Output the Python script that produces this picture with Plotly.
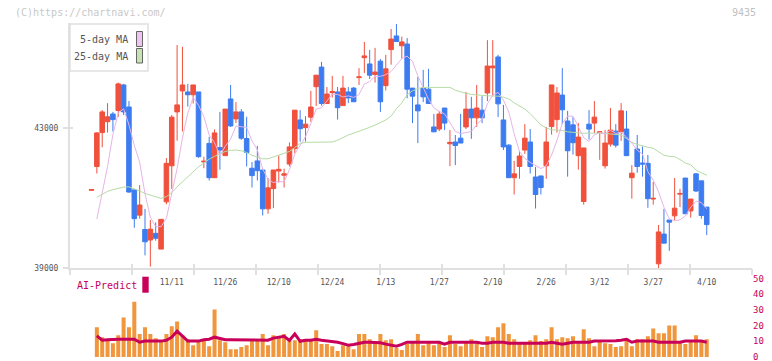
import plotly.graph_objects as go

W, H = 772, 361
FONT = "DejaVu Sans Mono"

# ---------------- data ----------------
opens = [41220, 41900, 42870, 43180, 43400, 43500, 44230, 43600, 41230, 40510,
         40100, 39800, 39990, 39540, 40890, 41920, 43460, 44060, 44030, 43950,
         44030, 42030, 42560, 41580, 42440, 42210, 43830, 43260, 43460, 42700,
         41850, 42060, 41800, 40690, 41270, 41770, 41650, 41970, 42410, 43230,
         43010, 43310, 44180, 44740, 43700, 44010, 44030, 43640, 44030, 44140,
         44440, 45010, 44830, 44530, 44910, 44210, 45240, 45630, 45350, 45400,
         44140, 43660, 44140, 44110, 43030, 42970, 43570, 42550, 42600, 42710,
         43030, 43540, 43290, 43510, 44000, 44720, 45030, 43230, 42510, 41580,
         41900, 42370, 42600, 41600, 41630, 41920, 43040, 43240, 43940, 43200,
         43090, 42210, 40900, 43110, 43140, 42870, 41920, 42540, 42910, 42890,
         42970, 41580, 42400, 42000, 41990, 40970, 39120, 39970, 40370, 40490,
         41110, 41570, 40630, 41690, 41490, 40740]
highs = [41240, 42880, 43510, 43710, 43460, 44300, 44260, 43770, 41260, 41370,
         40690, 40370, 40300, 40390, 42140, 43370, 45370, 45320, 44260, 44230,
         44030, 42180, 42750, 42960, 43460, 43540, 44230, 43740, 43540, 43320,
         42030, 42490, 41800, 41570, 41800, 42220, 41840, 42590, 43510, 43510,
         43340, 44060, 44510, 44890, 44170, 44490, 44170, 44490, 44170, 44170,
         44710, 45460, 45230, 45290, 44970, 45090, 45830, 45970, 45610, 45570,
         44140, 44460, 44660, 44690, 43400, 43490, 43570, 42940, 42800, 43400,
         44030, 43890, 44230, 43910, 45510, 45510, 45090, 43660, 42540, 42060,
         42340, 43110, 42970, 41890, 41630, 43030, 44230, 44170, 44710, 43490,
         43310, 43140, 42430, 43510, 43770, 42900, 42940, 43570, 43110, 43710,
         43490, 41940, 42800, 42470, 42230, 41460, 40230, 40690, 40370, 41570,
         41260, 41570, 40970, 41710, 41490, 40740]
lows = [41220, 41700, 42450, 42870, 42900, 43320, 43370, 41150, 40150, 40410,
        39360, 39040, 39780, 39540, 40820, 41260, 42640, 42900, 43610, 43700,
        42150, 41850, 41500, 41580, 41810, 42210, 43030, 43140, 42660, 41900,
        41300, 41500, 40500, 40550, 40710, 41440, 41300, 41900, 42280, 42610,
        42610, 43180, 43630, 43640, 43700, 43870, 43240, 43640, 43710, 43750,
        44230, 44570, 44400, 44300, 43460, 44070, 44810, 45470, 44990, 43850,
        43140, 42570, 43740, 43700, 42890, 42910, 42940, 41910, 41940, 42570,
        42970, 42690, 43030, 43140, 43770, 43910, 43310, 42370, 41580, 41100,
        41550, 42260, 41700, 40700, 41100, 41550, 42810, 42870, 43110, 41610,
        42240, 41810, 40810, 42670, 42860, 42090, 41840, 42470, 42440, 42630,
        42210, 40980, 41720, 41610, 40720, 40810, 38970, 39710, 39490, 40370,
        40740, 40550, 40440, 41170, 40410, 39940]
closes = [41240, 42860, 43460, 43320, 43240, 44260, 43460, 41170, 40410, 40800,
          39750, 40110, 39850, 40390, 41990, 43310, 43660, 44230, 43950, 44230,
          42180, 42050, 41580, 42860, 42370, 43540, 43060, 43460, 42710, 42300,
          41640, 41780, 40690, 41290, 41800, 41820, 41690, 42460, 43510, 42980,
          43110, 43600, 44510, 43700, 43970, 44040, 43580, 44140, 43860, 43750,
          44460, 45060, 44510, 44600, 43750, 44690, 45540, 45470, 45460, 44110,
          43910, 43490, 43890, 43700, 42890, 43400, 43140, 42590, 42500, 42570,
          43540, 43290, 43570, 43290, 44770, 44770, 43690, 42460, 41580, 41690,
          42200, 42710, 41900, 41100, 41300, 42600, 44230, 44000, 43520, 42350,
          42580, 42740, 42430, 42970, 43310, 42890, 42570, 42940, 42510, 43490,
          42210, 41710, 41900, 41970, 40980, 40990, 40030, 39710, 40310, 40710,
          41130, 40550, 40970, 41200, 40500, 40240]

ma5 = [None, 40400, 41130, 41900, 42820, 43428, 43548, 43090, 42508, 42020,
       41118, 40448, 40184, 40180, 40418, 41130, 41840, 42716, 43428, 43876,
       43650, 43328, 42798, 42580, 42208, 42480, 42682, 43058, 43028, 43014,
       42634, 42378, 41824, 41540, 41440, 41476, 41458, 41812, 42256, 42492,
       42750, 43132, 43542, 43580, 43778, 43964, 43960, 43886, 43918, 43874,
       43958, 44254, 44328, 44476, 44476, 44522, 44618, 44810, 44982, 45054,
       44898, 44488, 44172, 43820, 43576, 43474, 43404, 43144, 42904, 42840,
       42868, 42898, 43094, 43252, 43692, 43938, 44018, 43796, 43454, 42838,
       42324, 42128, 42016, 41920, 41842, 41922, 42226, 42646, 43130, 43340,
       43336, 43038, 42724, 42614, 42806, 42868, 42834, 42936, 42844, 42880,
       42744, 42572, 42364, 42256, 41754, 41510, 41174, 40736, 40404, 40350,
       40378, 40482, 40734, 40912, 40870, 40692]

ma25 = [None, 41020, 41110, 41190, 41240, 41280, 41310, 41320, 41270, 41200,
        41130, 41080, 41030, 40990, 41040, 41150, 41320, 41460, 41610, 41750,
        41890, 42000, 42110, 42190, 42260, 42330, 42360, 42370, 42350, 42300,
        42220, 42160, 42120, 42120, 42170, 42230, 42280, 42330, 42440, 42560,
        42590, 42590, 42590, 42590, 42590, 42600, 42650, 42730, 42800, 42850,
        42900, 42960, 43020, 43080, 43150, 43230, 43340, 43550, 43720, 43950,
        44060, 44130, 44160, 44160, 44160, 44160, 44160, 44160, 44080, 44030,
        43990, 43960, 43940, 43930, 43920, 43915, 43910, 43880, 43830, 43720,
        43640, 43540, 43410, 43260, 43090, 43000, 42950, 42940, 42930, 42890,
        42870, 42860, 42850, 42855, 42860, 42865, 42850, 42830, 42815, 42800,
        42700, 42590, 42530, 42480, 42450, 42420, 42320, 42220, 42190, 42180,
        42100, 42000, 41950, 41800, 41720, 41650]

volumes = [None, 18.9, 12.6, 11.3, 8.8, 13.8, 25.2, 18.9, 35.2, 14.7,
           18.9, 14.7, 11.9, 10.1, 14.7, 19.5, 22.6, 13.8, 11.3, 7.5,
           10.1, 11.3, 6.9, 30.2, 10.7, 9.4, 5.0, 5.0, 6.3, 7.5,
           10.1, 10.1, 14.7, 7.5, 13.8, 12.6, 14.7, 10.7, 10.7, 11.3,
           10.1, 10.7, 17.0, 8.2, 8.2, 6.9, 3.8, 7.5, 6.9, 5.0,
           14.7, 14.7, 11.3, 9.4, 14.7, 10.7, 11.3, 5.7, 4.4, 8.2,
           9.4, 14.7, 7.5, 9.4, 7.5, 9.4, 6.3, 13.8, 8.2, 6.9,
           9.4, 11.3, 9.4, 6.3, 13.2, 12.6, 18.9, 21.4, 14.7, 11.3,
           8.8, 8.8, 10.7, 13.8, 10.1, 11.3, 18.9, 11.3, 12.6, 11.9,
           13.2, 9.4, 17.6, 11.9, 6.9, 10.1, 8.8, 8.2, 6.3, 6.9,
           11.9, 6.9, 11.3, 11.3, 13.2, 18.2, 15.1, 15.1, 20.1, 20.1,
           10.1, 8.2, 10.1, 13.8, 10.1, 11.3]

ai_predict = [None, 13.4, 10.7, 11.0, 11.3, 11.3, 11.3, 11.3, 11.3, 9.4,
              10.1, 10.1, 10.1, 10.1, 10.6, 12.6, 16.4, 13.5, 10.1, 10.1,
              10.1, 11.0, 11.3, 12.6, 12.0, 11.0, 11.0, 11.0, 10.8, 10.7,
              10.7, 10.7, 10.7, 10.7, 12.0, 12.6, 13.2, 10.5, 14.7, 10.0,
              10.7, 10.7, 11.3, 10.7, 10.3, 10.0, 9.4, 8.5, 7.5, 8.0,
              8.5, 9.4, 9.4, 9.4, 9.0, 8.2, 7.5, 6.9, 8.0, 9.4,
              9.4, 9.4, 9.4, 9.4, 9.4, 9.4, 8.2, 9.4, 9.4, 9.4,
              9.4, 9.4, 9.4, 8.8, 8.8, 9.4, 9.4, 9.4, 8.8, 8.8,
              8.8, 8.8, 8.8, 8.8, 8.8, 8.8, 9.4, 9.0, 8.2, 8.8,
              9.4, 9.4, 9.4, 9.4, 10.1, 10.1, 10.1, 10.1, 10.4, 10.7,
              11.3, 9.4, 10.1, 10.1, 10.1, 10.1, 9.4, 9.4, 9.4, 9.4,
              9.4, 10.1, 10.1, 10.1, 10.1, 9.4]

date_labels = ["11/11", "11/26", "12/10", "12/24", "1/13", "1/27",
               "2/10", "2/26", "3/12", "3/27", "4/10"]
date_label_pos = [15, 25, 35, 45, 55, 65, 75, 85, 95, 105, 115]

price_ticks = [39000, 43000]
volume_ticks = [0, 10, 20, 30, 40, 50]

n = len(closes)
for arr in (opens, highs, lows, ma5, ma25, volumes, ai_predict):
    assert len(arr) == n, len(arr)
x = list(range(n))

# ---------------- styling ----------------
RED = "#f0503c"
BLUE = "#3d7cf0"
PINK = "#e8b4e8"
GREEN = "#b4dca4"
ORANGE = "#f0963c"
MAG = "#c8005a"
AXIS = "#e0e0e0"
TXT = "#555555"

X_RANGE = [-4.02, 123.46]


def px(v):
    return v / W


def py(v):
    return 1 - v / H


grid_vals = [X_RANGE[0] + k * (X_RANGE[1] - X_RANGE[0]) / 11 for k in range(12)]

fig = go.Figure()

fig.add_trace(go.Candlestick(
    x=x, open=opens, high=highs, low=lows, close=closes,
    increasing=dict(line=dict(color=RED, width=1), fillcolor=RED),
    decreasing=dict(line=dict(color=BLUE, width=1), fillcolor=BLUE),
    whiskerwidth=0, xaxis="x", yaxis="y", hoverinfo="skip"))

fig.add_trace(go.Scatter(x=x, y=ma25, mode="lines", line=dict(color=GREEN, width=1),
                         xaxis="x", yaxis="y", hoverinfo="skip"))
fig.add_trace(go.Scatter(x=x, y=ma5, mode="lines", line=dict(color=PINK, width=1),
                         xaxis="x", yaxis="y", hoverinfo="skip"))

fig.add_trace(go.Bar(x=x, y=volumes, width=0.75, marker=dict(color=ORANGE, line=dict(width=0)),
                     xaxis="x2", yaxis="y2", hoverinfo="skip"))
fig.add_trace(go.Scatter(x=x, y=ai_predict, mode="lines", line=dict(color=MAG, width=3),
                         xaxis="x2", yaxis="y2", hoverinfo="skip"))

dom_x = [px(70), px(752)]
price_dom = [py(268), py(23)]
vol_dom = [py(357), py(278.4)]

fig.update_layout(
    width=W, height=H,
    margin=dict(l=0, r=0, t=0, b=0, pad=0, autoexpand=False),
    paper_bgcolor="white", plot_bgcolor="white",
    showlegend=False,
    boxgap=0.15, boxgroupgap=0,
    font=dict(family=FONT, color=TXT),
    xaxis=dict(domain=dom_x, anchor="y", range=X_RANGE, rangeslider=dict(visible=False),
               automargin=False,
               showgrid=False, zeroline=False, showline=True, linecolor=AXIS, linewidth=2,
               tickmode="array", tickvals=date_label_pos, ticktext=date_labels,
               ticks="", tickfont=dict(size=8, color=TXT, family=FONT),
               ticklabelstandoff=5),
    xaxis3=dict(overlaying="x", anchor="y", range=X_RANGE, showgrid=False, zeroline=False,
                automargin=False,
                showline=False, tickmode="array", tickvals=grid_vals, ticks="outside",
                ticklen=6, tickcolor=AXIS, tickwidth=2, showticklabels=False),
    xaxis4=dict(overlaying="x", anchor="y", range=X_RANGE, showgrid=False, zeroline=False,
                automargin=False,
                showline=False, tickmode="array", tickvals=grid_vals, ticks="inside",
                ticklen=4, tickcolor=AXIS, tickwidth=2, showticklabels=False),
    yaxis=dict(domain=price_dom, anchor="x", range=[39000, 46000], showgrid=False,
               automargin=False,
               zeroline=False, showline=True, linecolor=AXIS, linewidth=2,
               tickmode="array", tickvals=price_ticks, ticks="outside", ticklen=5,
               tickcolor=AXIS, tickwidth=2, tickformat="d",
               tickfont=dict(size=8, color=TXT, family=FONT), ticklabelstandoff=3),
    yaxis3=dict(overlaying="y", anchor="x", range=[39000, 46000], showgrid=False,
                automargin=False,
                zeroline=False, showline=False, tickmode="array", tickvals=price_ticks,
                ticks="inside", ticklen=3, tickcolor=AXIS, tickwidth=2, showticklabels=False),
    xaxis2=dict(domain=dom_x, anchor="y2", range=X_RANGE, showgrid=False, zeroline=False,
                automargin=False,
                showline=False, showticklabels=False, ticks=""),
    yaxis2=dict(domain=vol_dom, anchor="x2", range=[0, 50], side="right", showgrid=False,
                automargin=False, ticklabeloverflow="allow",
                zeroline=False, showline=False, tickmode="array", tickvals=volume_ticks,
                ticks="", tickfont=dict(size=9, color=MAG, family=FONT)),
)

# dummy traces to activate overlay axes
fig.add_trace(go.Scatter(x=[None], y=[None], xaxis="x3", yaxis="y", showlegend=False))
fig.add_trace(go.Scatter(x=[None], y=[None], xaxis="x4", yaxis="y3", showlegend=False))

shapes = [
    # legend box
    dict(type="rect", xref="paper", yref="paper", x0=px(70), x1=px(148), y0=py(71), y1=py(24),
         line=dict(color=AXIS, width=1.5), fillcolor="white", layer="above"),
    dict(type="rect", xref="paper", yref="paper", x0=px(136.5), x1=px(142.5), y0=py(46.5), y1=py(31.5),
         line=dict(color="#666666", width=1), fillcolor="#f0c4f0", layer="above"),
    dict(type="rect", xref="paper", yref="paper", x0=px(136.5), x1=px(142.5), y0=py(63), y1=py(48.5),
         line=dict(color="#666666", width=1), fillcolor="#c4e4b4", layer="above"),
    # AI-Predict marker
    dict(type="rect", xref="paper", yref="paper", x0=px(142.3), x1=px(148.7), y0=py(292.7), y1=py(276.7),
         line=dict(width=0), fillcolor=MAG, layer="above"),
]

annotations = [
    dict(text="5-day MA", xref="paper", yref="paper", x=px(130), y=py(39.5), xanchor="right",
         yanchor="middle", showarrow=False, font=dict(size=10, color=TXT, family=FONT)),
    dict(text="25-day MA", xref="paper", yref="paper", x=px(130), y=py(56.5), xanchor="right",
         yanchor="middle", showarrow=False, font=dict(size=10, color=TXT, family=FONT)),
    dict(text="(C)https://chartnavi.com/", xref="paper", yref="paper", x=px(13), y=py(12),
         xanchor="left", yanchor="middle", showarrow=False,
         font=dict(size=10, color="#c8c8c8", family=FONT)),
    dict(text="9435", xref="paper", yref="paper", x=px(758), y=py(12), xanchor="right",
         yanchor="middle", showarrow=False, font=dict(size=10, color="#c0c0c0", family=FONT)),
    dict(text="AI-Predict", xref="paper", yref="paper", x=px(75), y=py(285.5), xanchor="left",
         yanchor="middle", showarrow=False, font=dict(size=10, color=MAG, family=FONT)),
]

fig.update_layout(shapes=shapes, annotations=annotations)

fig.write_html(
    "out.html",
    config={"displayModeBar": False, "staticPlot": True},
    post_script="document.body.style.margin='0';document.body.style.padding='0';"
                "document.body.style.overflow='hidden';",
)
